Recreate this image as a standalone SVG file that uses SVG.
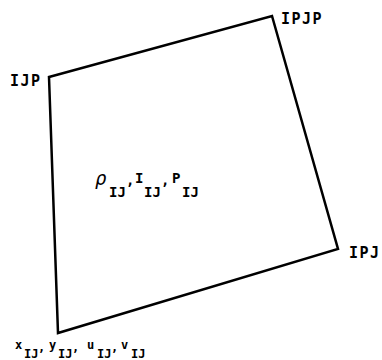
<svg xmlns="http://www.w3.org/2000/svg" width="382" height="360" viewBox="0 0 382 360">
<style>
text{font-family:"DejaVu Sans Mono","Liberation Mono",monospace;fill:#000;font-weight:bold}
.c{font-size:15px;letter-spacing:1.5px}
.m{font-size:14px}
.r{font-size:19px;font-style:italic;font-weight:normal}
.b{font-size:12px}
</style>
<rect width="382" height="360" fill="#fff"/>
<g id="connectors">
<polygon points="49,77 272,16 338,249 58,333" fill="none" stroke="#000" stroke-width="2.5" stroke-linejoin="miter"/>
</g>
<g id="node-IJP"><text class="c" x="10" y="86">IJP</text></g>
<g id="node-IPJP"><text class="c" x="281" y="24">IPJP</text></g>
<g id="node-IPJ"><text class="c" x="349" y="258">IPJ</text></g>
<g id="node-IJ"><text class="b" x="15" y="349">x</text><text class="b" x="24" y="358">IJ</text><text class="b" x="38" y="351">,</text>
<text class="b" x="49" y="349">y</text><text class="b" x="58" y="358">IJ</text><text class="b" x="72" y="351">,</text>
<text class="b" x="87" y="349">u</text><text class="b" x="97" y="358">IJ</text><text class="b" x="111" y="351">,</text>
<text class="b" x="121" y="349">v</text><text class="b" x="131" y="358">IJ</text></g>
<g id="node-center"><text class="r" x="95" y="185">ρ</text><text class="m" x="109" y="197">IJ</text><text class="m" x="126" y="185">,</text>
<text class="m" x="135" y="183">I</text><text class="m" x="144" y="197">IJ</text><text class="m" x="161" y="185">,</text>
<text class="m" x="172" y="183">P</text><text class="m" x="182" y="197">IJ</text></g>
</svg>
